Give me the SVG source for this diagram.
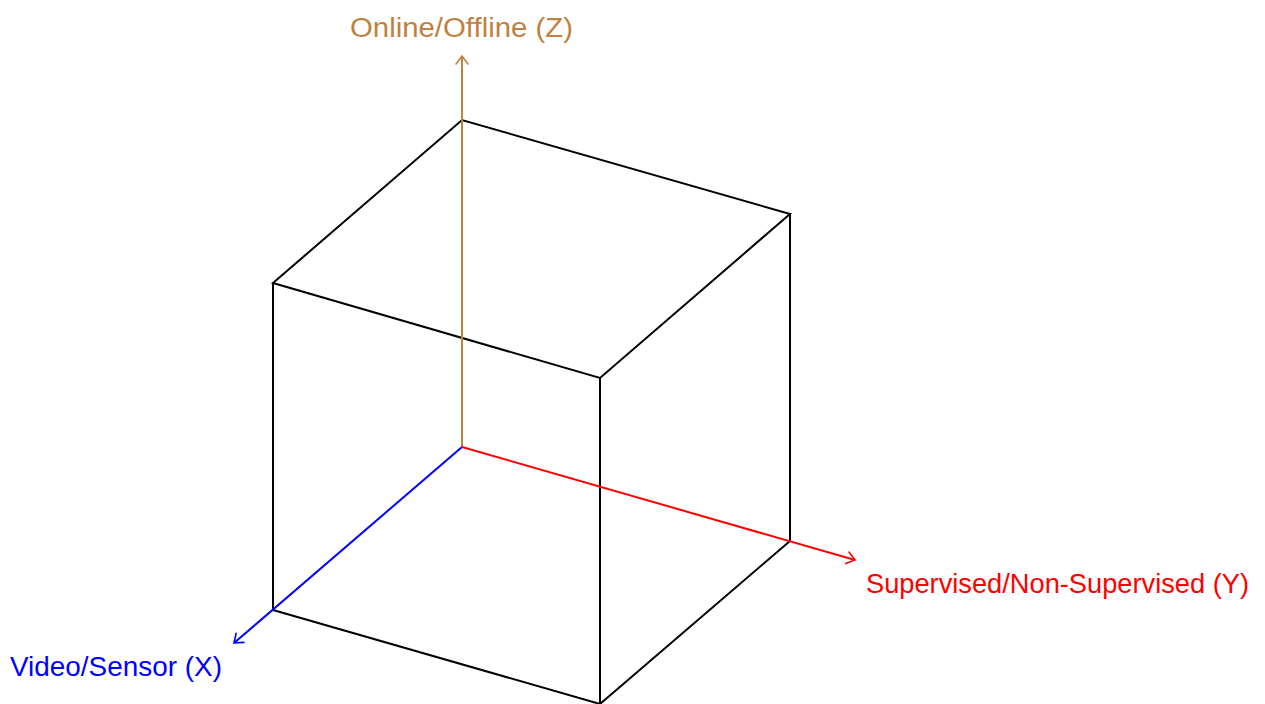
<svg xmlns="http://www.w3.org/2000/svg" width="1265" height="704" viewBox="0 0 1265 704">
<style>
.edge{stroke:#000;stroke-width:2;fill:none;stroke-linecap:round}
.ax{stroke-width:2;fill:none}
.lbl{font-family:"Liberation Sans",Arial,sans-serif;font-size:27px}
</style>
<defs>
<marker id="arrZ" markerUnits="userSpaceOnUse" markerWidth="20" markerHeight="20" refX="0" refY="0" viewBox="-10 -10 20 20" orient="auto"><path d="M-8,-6 Q-2,-1.5 0,0 Q-2,1.5 -8,6" fill="none" stroke="#bf8040" stroke-width="1.6" stroke-linecap="round"/></marker>
<marker id="arrX" markerUnits="userSpaceOnUse" markerWidth="20" markerHeight="20" refX="0" refY="0" viewBox="-10 -10 20 20" orient="auto"><path d="M-8,-6 Q-2,-1.5 0,0 Q-2,1.5 -8,6" fill="none" stroke="#0000ff" stroke-width="1.6" stroke-linecap="round"/></marker>
<marker id="arrY" markerUnits="userSpaceOnUse" markerWidth="20" markerHeight="20" refX="0" refY="0" viewBox="-10 -10 20 20" orient="auto"><path d="M-8,-6 Q-2,-1.5 0,0 Q-2,1.5 -8,6" fill="none" stroke="#ff0000" stroke-width="1.6" stroke-linecap="round"/></marker>
</defs>
<rect width="1265" height="704" fill="#fff"/>
<g id="cube">
<path class="edge" d="M273,283 L462,120 L790,214 L600,378 Z"/>
<path class="edge" d="M273,283 L273,610 M600,378 L600,704 M790,214 L790,541"/>
<path class="edge" d="M273,610 L600,704 L790,541"/>
</g>
<g id="connectors">
<line id="axisZ" class="ax" x1="462" y1="447" x2="462" y2="56" stroke="#bf8040" marker-end="url(#arrZ)"/>
<line id="axisX" class="ax" x1="462" y1="447" x2="234" y2="643" stroke="#0000ff" marker-end="url(#arrX)"/>
<line id="axisY" class="ax" x1="462" y1="447" x2="855" y2="560" stroke="#ff0000" marker-end="url(#arrY)"/>
</g>
<g id="labelZ"><text class="lbl" x="461.5" y="37" text-anchor="middle" fill="#bf8040" textLength="223" lengthAdjust="spacingAndGlyphs">Online/Offline (Z)</text></g>
<g id="labelX"><text class="lbl" x="10" y="676" fill="#0000ff" textLength="212" lengthAdjust="spacingAndGlyphs">Video/Sensor (X)</text></g>
<g id="labelY"><text class="lbl" x="866" y="593" fill="#ff0000" textLength="383" lengthAdjust="spacingAndGlyphs">Supervised/Non-Supervised (Y)</text></g>
</svg>
